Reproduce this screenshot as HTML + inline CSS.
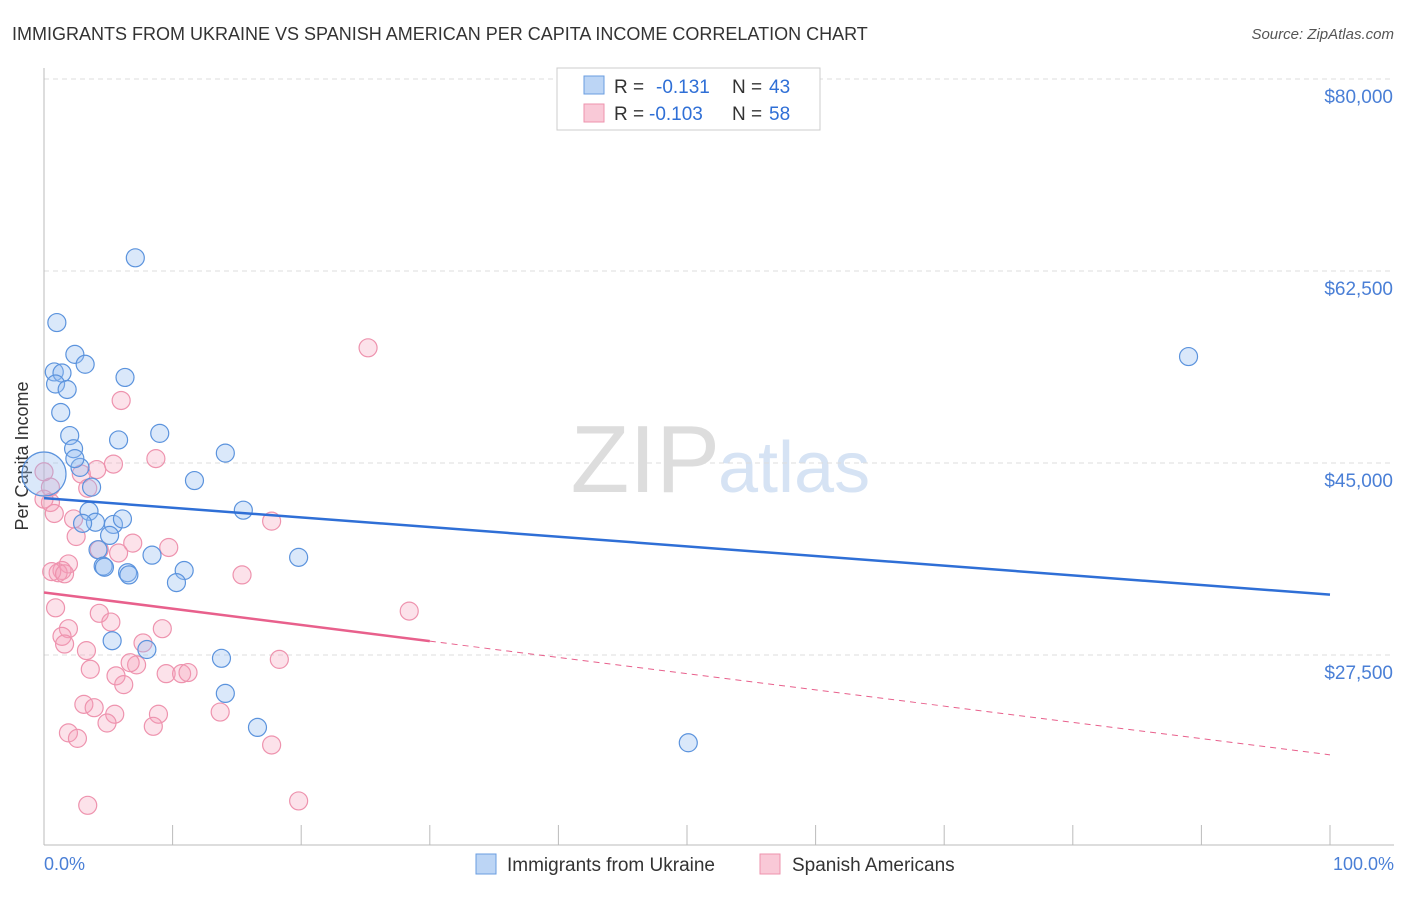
<!DOCTYPE html>
<html><head><meta charset="utf-8"><style>
body{margin:0;background:#fff;font-family:"Liberation Sans",sans-serif;}
svg text{font-family:"Liberation Sans",sans-serif;}
</style></head><body>
<svg id="c" width="1406" height="892">
<text x="12" y="40" font-size="18" fill="#333">IMMIGRANTS FROM UKRAINE VS SPANISH AMERICAN PER CAPITA INCOME CORRELATION CHART</text>
<text x="1394" y="39" font-size="15" fill="#555" text-anchor="end" font-style="italic">Source: ZipAtlas.com</text>
<text x="720" y="492" font-size="96" fill="#ddd" text-anchor="end" font-family="Liberation Serif">ZIP</text>
<text x="718" y="492" font-size="72" fill="#d6e3f4">atlas</text>
<g id="grid"></g>
<line x1="44" y1="68" x2="44" y2="845" stroke="#bbb"/>
<line x1="44" y1="845" x2="1394" y2="845" stroke="#bbb"/>
<g id="ticks"></g>
<text x="28" y="456" font-size="18" fill="#333" text-anchor="middle" transform="rotate(-90 28 456)">Per Capita Income</text>
<text x="44" y="870" font-size="18" fill="#4a7fd6">0.0%</text>
<text x="1394" y="870" font-size="18" fill="#4a7fd6" text-anchor="end">100.0%</text>
<g id="pts"></g>
<g id="lines"></g>
<g>
<rect x="557" y="68" width="263" height="62" fill="#fff" stroke="#ccc"/>
<rect x="584" y="76" width="20" height="18" fill="#bcd5f5" stroke="#6a9de0"/>
<rect x="584" y="104" width="20" height="18" fill="#f9c9d7" stroke="#ee93ae"/>
<text y="93" font-size="19" fill="#333"><tspan x="614">R =</tspan><tspan x="656" fill="#2f6fd6">-0.131</tspan><tspan x="732">N =</tspan><tspan x="769" fill="#2f6fd6">43</tspan></text>
<text y="120" font-size="19" fill="#333"><tspan x="614">R =</tspan><tspan x="649" fill="#2f6fd6">-0.103</tspan><tspan x="732">N =</tspan><tspan x="769" fill="#2f6fd6">58</tspan></text>
</g>
<g>
<rect x="476" y="854" width="20" height="20" fill="#bcd5f5" stroke="#6a9de0"/>
<text x="507" y="871" font-size="19" fill="#333">Immigrants from Ukraine</text>
<rect x="760" y="854" width="20" height="20" fill="#f9c9d7" stroke="#ee93ae"/>
<text x="792" y="871" font-size="19" fill="#333">Spanish Americans</text>
</g>
</svg>
<script>
const yTicks=[80000,62500,45000,27500];
const yTickLabels=["$80,000","$62,500","$45,000","$27,500"];
const blueX=[7.1,1.0,2.4,3.2,0.8,1.4,6.3,0.9,1.8,1.3,2.0,5.8,9.0,2.3,14.1,2.8,11.7,3.7,15.5,3.5,4.0,3.0,5.4,6.1,5.1,4.2,8.4,19.8,4.6,6.5,10.9,6.6,4.7,10.3,5.3,8.0,13.8,14.1,16.6,50.1,89.0,0.0,2.4];
const blueY=[63700,57800,54900,54000,53300,53200,52800,52200,51700,49600,47500,47100,47700,46300,45900,44600,43400,42800,40700,40600,39600,39500,39400,39900,38400,37100,36600,36400,35600,35000,35200,34800,35500,34100,28800,28000,27200,24000,20900,19500,54700,44000,45400];
const blueR=[9,9,9,9,9,9,9,9,9,9,9,9,9,9,9,9,9,9,9,9,9,9,9,9,9,9,9,9,9,9,9,9,9,9,9,9,9,9,9,9,9,22,9];
const pinkX=[25.2,6.0,8.7,5.4,4.1,2.9,0.5,3.4,0.5,0.8,2.3,17.7,2.5,6.9,9.7,5.8,4.3,1.9,1.4,1.1,0.6,1.6,15.4,28.4,0.9,4.3,1.9,5.2,9.2,1.4,1.6,3.3,7.7,18.3,7.2,3.6,5.6,9.5,10.7,11.2,6.2,3.1,3.9,5.5,8.9,13.7,4.9,8.5,1.9,2.6,17.7,3.4,19.8,0.0,0.0,6.7];
const pinkY=[55500,50700,45400,44900,44400,44000,42800,42700,41400,40400,39900,39700,38300,37700,37300,36800,37100,35800,35200,35000,35100,34900,34800,31500,31800,31300,29900,30500,29900,29200,28500,27900,28600,27100,26600,26200,25600,25800,25800,25900,24800,23000,22700,22100,22100,22300,21300,21000,20400,19900,19300,13800,14200,44200,41700,26800];
const blueLine=[41800,33000];
const pinkLine=[33200,18400];
const pinkSolidEnd=30;
const X0=44,X1=1330;
function xs(p){return X0+(X1-X0)*p/100;}
function ys(v){return 79+(80000-v)*192/17500;}
const NS="http://www.w3.org/2000/svg";
function mk(t,a,parent){const e=document.createElementNS(NS,t);for(const k in a)e.setAttribute(k,a[k]);document.getElementById(parent).appendChild(e);return e;}
yTicks.forEach((v,i)=>{
 const g=mk('line',{x1:44,x2:1394,y1:ys(v),y2:ys(v),stroke:'#ddd','stroke-dasharray':'5,4'},'grid');
 
 
 const t=mk('text',{x:1393,y:ys(v)+24,'font-size':19,fill:'#4a7fd6','text-anchor':'end'},'grid');
 t.textContent=yTickLabels[i];
 
 
});
for(let i=0;i<=10;i++){
 const l=mk('line',{x1:xs(i*10),x2:xs(i*10),y1:825,y2:845,stroke:'#bbb'},'ticks');
 
 
}
pinkX.forEach((x,i)=>{
 const c=mk('circle',{cx:xs(x),cy:ys(pinkY[i]),r:9,fill:'rgba(245,160,185,0.3)',stroke:'#ee93ae','stroke-width':1.2},'pts');
 
 
});
blueX.forEach((x,i)=>{
 const c=mk('circle',{cx:xs(x),cy:ys(blueY[i]),r:blueR[i],fill:'rgba(150,190,240,0.35)',stroke:'#5b93dd','stroke-width':1.2},'pts');
 
 
});
const bl=mk('line',{x1:xs(0),y1:ys(blueLine[0]),x2:xs(100),y2:ys(blueLine[1]),stroke:'#2f6fd6','stroke-width':2.5},'lines');


const pv=x=>pinkLine[0]+(pinkLine[1]-pinkLine[0])*x/100;
const ps=mk('line',{x1:xs(0),y1:ys(pv(0)),x2:xs(pinkSolidEnd),y2:ys(pv(pinkSolidEnd)),stroke:'#e8608c','stroke-width':2.5},'lines');


const pd=mk('line',{x1:xs(pinkSolidEnd),y1:ys(pv(pinkSolidEnd)),x2:xs(100),y2:ys(pv(100)),stroke:'#e8608c','stroke-width':1,'stroke-dasharray':'6,5'},'lines');


</script>
</body></html>
